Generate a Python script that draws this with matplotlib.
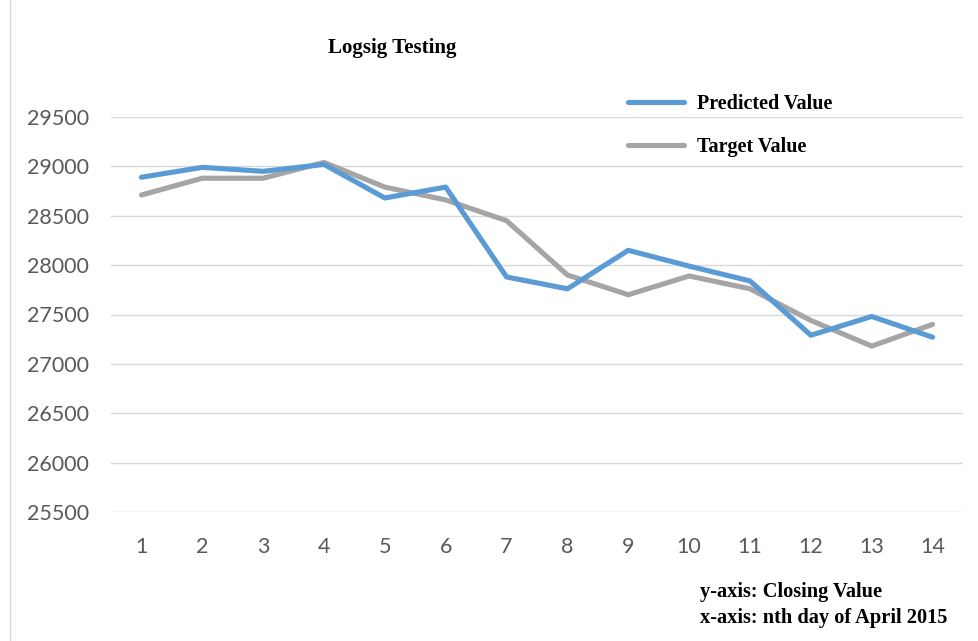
import matplotlib
matplotlib.use("Agg")
import matplotlib.pyplot as plt
from matplotlib.lines import Line2D

days = list(range(1, 15))
predicted = [28890, 28990, 28950, 29020, 28680, 28790, 27880, 27760,
             28150, 27990, 27840, 27290, 27480, 27270]
target = [28710, 28880, 28880, 29040, 28790, 28660, 28450, 27900,
          27700, 27890, 27760, 27440, 27180, 27400]
yticks = [25500, 26000, 26500, 27000, 27500, 28000, 28500, 29000, 29500]

title = "Logsig Testing"
series_names = ["Predicted Value", "Target Value"]
notes = ["y-axis: Closing Value", "x-axis: nth day of April 2015"]

blue = "#5B9BD5"
gray = "#A5A5A5"
serif = "Liberation Serif"
tickfont = "Lato"

fig = plt.figure(figsize=(9.79, 6.41), dpi=100)
ax = fig.add_axes([111/979, 1-512/641, (963-111)/979, (512-117)/641])

l1, = ax.plot(days, predicted, color=blue, lw=3.7, solid_capstyle="round",
              solid_joinstyle="round", zorder=3)
l2, = ax.plot(days, target, color=gray, lw=3.7, solid_capstyle="round",
              solid_joinstyle="round", zorder=2)

ax.set_xlim(0.5, 14.5)
ax.set_ylim(25500, 29500)
ax.set_yticks(yticks)
ax.set_xticks(days)
ax.set_yticklabels([str(v) for v in yticks])
ax.set_xticklabels([str(d) for d in days])
ax.grid(axis="y", color="#D9D9D9", lw=1.0, zorder=0)
for s in ax.spines.values():
    s.set_visible(False)
ax.tick_params(length=0, labelsize=15.5, labelcolor="#595959")
ax.tick_params(axis="x", pad=18)
ax.tick_params(axis="y", pad=16)
for lab in ax.get_xticklabels() + ax.get_yticklabels():
    lab.set_fontfamily(tickfont)

fig.text(392/979, 1-48/641, title, ha="center", va="center",
         fontfamily=serif, fontweight="bold", fontsize=15)

leg = fig.legend([l1, l2], series_names, loc="upper left",
                 bbox_to_anchor=(610/979, 1-76/641), frameon=False,
                 prop={"family": serif, "weight": "bold", "size": 14.5},
                 handlelength=2.75, handletextpad=0.65, labelspacing=1.15)

fig.text(700/979, 1-592/641, notes[0], ha="left", va="center",
         fontfamily=serif, fontweight="bold", fontsize=14.7)
fig.text(700/979, 1-618/641, notes[1], ha="left", va="center",
         fontfamily=serif, fontweight="bold", fontsize=14.7)

fig.add_artist(Line2D([10/979, 10/979], [0, 1], color="#D9D9D9", lw=1.0,
                      transform=fig.transFigure))

fig.savefig("out.png", dpi=100)
